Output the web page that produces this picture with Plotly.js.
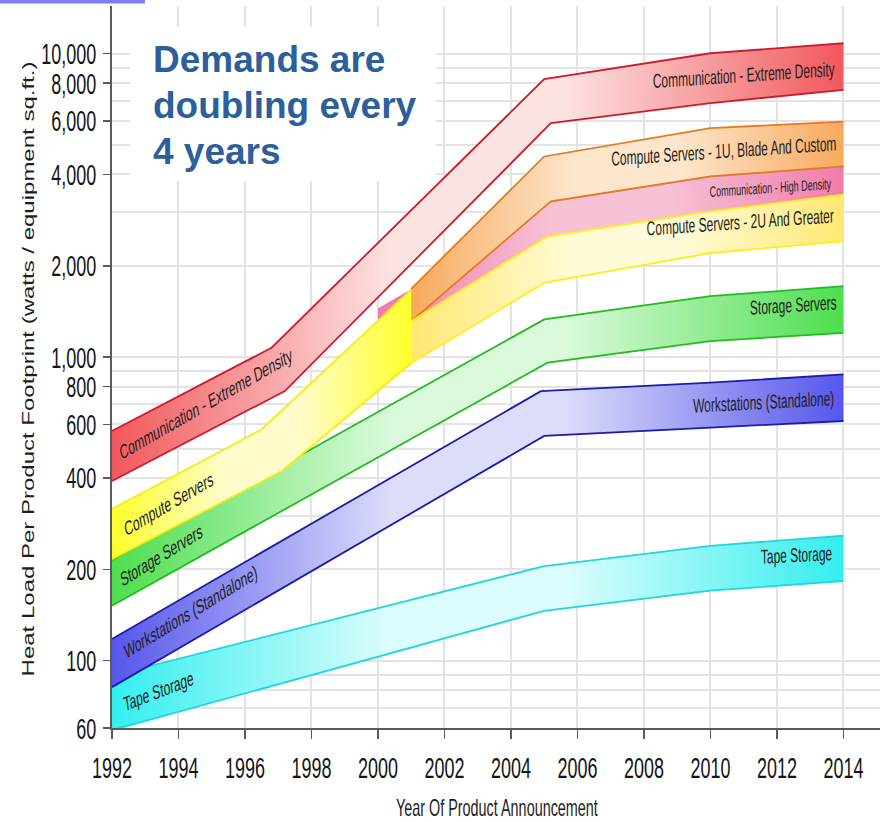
<!DOCTYPE html>
<html>
<head>
<meta charset="utf-8">
<script src="https://cdn.plot.ly/plotly-3.0.1.min.js"></script>
<style>
  html, body { margin: 0; padding: 0; background: #ffffff; }
  #chart { width: 885px; height: 822px; }
</style>
</head>
<body>
<div id="chart"></div>
<script>
// ---- axis ticks ----
const yearTicks = [1992, 1994, 1996, 1998, 2000, 2002, 2004, 2006, 2008, 2010, 2012, 2014];
const loadTicks = [60, 100, 200, 400, 600, 800, 1000, 2000, 4000, 6000, 8000, 10000];
const loadTickText = ['60', '100', '200', '400', '600', '800', '1,000', '2,000', '4,000', '6,000', '8,000', '10,000'];
const loadGridExtra = [70, 80, 90, 300, 500, 700, 900, 3000, 5000, 7000, 9000];

// ---- band edges: year of announcement and heat load (watts / equipment sq.ft.) ----
const commExtremeTopYears = [1992, 1996.8, 2005.0, 2010, 2014];
const commExtremeTopLoad  = [571, 1074, 8240, 10030, 10820];
const commExtremeBotYears = [1992, 1997.2, 2005.2, 2010, 2014];
const commExtremeBotLoad  = [391, 773, 5900, 6870, 7600];

const compute1UTopYears = [2001, 2005.0, 2010, 2014];
const compute1UTopLoad  = [1679, 4584, 5682, 5975];
const compute1UBotYears = [2001, 2005.2, 2010, 2014];
const compute1UBotLoad  = [1314, 3261, 3939, 4249];

const commHighTopYears = [2000, 2001, 2005.2, 2010, 2014];
const commHighTopLoad  = [1435, 1660, 3261, 3939, 4249];
const commHighBotYears = [2000, 2001, 2005.1, 2010, 2014];
const commHighBotLoad  = [1250, 1314, 2500, 3022, 3429];

const compute2UTopYears = [2001, 2005.1, 2010, 2014];
const compute2UTopLoad  = [1314, 2500, 3022, 3429];
const compute2UBotYears = [2001, 2005.0, 2010, 2014];
const compute2UBotLoad  = [955, 1757, 2204, 2408];

const computeTopYears = [1992, 1996.5, 2001];
const computeTopLoad  = [316, 578, 1670];
const computeBotYears = [1992, 1997.1, 2001];
const computeBotLoad  = [216, 421, 955];

const storageTopYears = [1992, 2005.0, 2010, 2014];
const storageTopLoad  = [214.5, 1331, 1588, 1713];
const storageBotYears = [1992, 2005.1, 2010, 2014];
const storageBotLoad  = [151.7, 958.6, 1129, 1203];

const workstationTopYears = [1992, 2004.9, 2010, 2014];
const workstationTopLoad  = [117.9, 773, 824, 877];
const workstationBotYears = [1992, 2005.0, 2010, 2014];
const workstationBotLoad  = [81.8, 550, 586, 616];

const tapeTopYears = [1992, 2005, 2010, 2014];
const tapeTopLoad  = [89.3, 205, 239, 258];
const tapeBotYears = [1992, 2005, 2010, 2014];
const tapeBotLoad  = [59, 146, 170, 183];

// ---- band styling ----
const bands = {
  tape:         { topX: tapeTopYears, topY: tapeTopLoad, botX: tapeBotYears, botY: tapeBotLoad,
                  sat: '#34eeee', pale: '#dcfdfd', line: '#22d6df' },
  workstation:  { topX: workstationTopYears, topY: workstationTopLoad, botX: workstationBotYears, botY: workstationBotLoad,
                  sat: '#5656ec', pale: '#dcdcfb', line: '#1c1ca6' },
  storage:      { topX: storageTopYears, topY: storageTopLoad, botX: storageBotYears, botY: storageBotLoad,
                  sat: '#4ede4e', pale: '#dafadb', line: '#22bb22' },
  commHigh:     { topX: commHighTopYears, topY: commHighTopLoad, botX: commHighBotYears, botY: commHighBotLoad,
                  sat: '#f07cab', pale: '#f7c2d6', line: '#ea7aa8', noBottom: true },
  compute1U:    { topX: compute1UTopYears, topY: compute1UTopLoad, botX: compute1UBotYears, botY: compute1UBotLoad,
                  sat: '#f7aa5c', pale: '#fde6cc', line: '#e47a22' },
  compute2U:    { topX: compute2UTopYears, topY: compute2UTopLoad, botX: compute2UBotYears, botY: compute2UBotLoad,
                  sat: '#ffe872', pale: '#fffbd6', line: '#ffec1a' },
  computeEarly: { topX: computeTopYears, topY: computeTopLoad, botX: computeBotYears, botY: computeBotLoad,
                  sat: '#ffff2a', pale: '#fffccc', line: '#f2ee10' },
  commExtreme:  { topX: commExtremeTopYears, topY: commExtremeTopLoad, botX: commExtremeBotYears, botY: commExtremeBotLoad,
                  sat: '#f2585c', pale: '#fde2e2', line: '#c81e30' }
};
const drawOrder = ['tape', 'workstation', 'storage', 'commHigh', 'compute1U', 'compute2U', 'computeEarly', 'commExtreme'];

// ---- band labels ----
const bandLabels = [
  { text: 'Communication - Extreme Density', band: 'commExtreme', year: 2011.0, angle: 3.8 },
  { text: 'Compute Servers - 1U, Blade And Custom', band: 'compute1U', year: 2010.4, angle: 3.9 },
  { text: 'Communication - High Density', band: 'commHigh', year: 2011.8, angle: 3.8, size: 15 },
  { text: 'Compute Servers - 2U And Greater', band: 'compute2U', year: 2010.9, angle: 4, shift: 7 },
  { text: 'Storage Servers', band: 'storage', year: 2012.5, angle: 3.5, shift: 8 },
  { text: 'Workstations (Standalone)', band: 'workstation', year: 2011.6, angle: 3 },
  { text: 'Tape Storage', band: 'tape', year: 2012.6, angle: 3, shift: 7 },
  { text: 'Communication - Extreme Density', band: 'commExtreme', year: 1994.8, angle: 30, shift: 4 },
  { text: 'Compute Servers', band: 'computeEarly', year: 1993.7, angle: 30.5 },
  { text: 'Storage Servers', band: 'storage', year: 1993.5, angle: 32 },
  { text: 'Workstations (Standalone)', band: 'workstation', year: 1994.35, angle: 31.5, shift: 6 },
  { text: 'Tape Storage', band: 'tape', year: 1993.4, angle: 21 }
];

const SQ = 0.6;            // horizontal compression of the chart lettering
const FONT = 'Liberation Sans, Arial, sans-serif';

// log10 of the edge value at a given year (edges are straight on the log scale)
function logAt(xs, ys, x) {
  for (let i = 0; i < xs.length - 1; i++) {
    if (x >= xs[i] && x <= xs[i + 1]) {
      const t = (x - xs[i]) / (xs[i + 1] - xs[i]);
      return Math.log10(ys[i]) + t * (Math.log10(ys[i + 1]) - Math.log10(ys[i]));
    }
  }
  return Math.log10(x < xs[0] ? ys[0] : ys[ys.length - 1]);
}

const traces = [];
drawOrder.forEach(key => {
  const b = bands[key];
  traces.push({
    type: 'scatter', mode: 'lines',
    x: b.topX.concat(b.botX.slice().reverse()),
    y: b.topY.concat(b.botY.slice().reverse()),
    fill: 'toself',
    fillgradient: {
      type: 'horizontal',
      colorscale: [[0, b.sat], [0.38, b.pale], [0.62, b.pale], [1, b.sat]]
    },
    line: { width: 0 },
    hoverinfo: 'skip', showlegend: false
  });
  traces.push({
    type: 'scatter', mode: 'lines', x: b.topX, y: b.topY,
    line: { color: b.line, width: 1.8 }, hoverinfo: 'skip', showlegend: false
  });
  if (!b.noBottom) {
    traces.push({
      type: 'scatter', mode: 'lines', x: b.botX, y: b.botY,
      line: { color: b.line, width: 1.8 }, hoverinfo: 'skip', showlegend: false
    });
  }
});

const annotations = bandLabels.map(l => {
  const b = bands[l.band];
  const mid = (logAt(b.topX, b.topY, l.year) + logAt(b.botX, b.botY, l.year)) / 2;
  const pre = Math.atan(Math.tan(l.angle * Math.PI / 180) * SQ) * 180 / Math.PI;
  return {
    text: l.text, x: l.year, y: mid, xref: 'x', yref: 'y',
    xanchor: 'center', yanchor: 'middle', showarrow: false,
    textangle: -pre, yshift: l.shift || 0,
    font: { family: FONT, size: l.size || 20, color: '#1e1e1e' }
  };
});

// headline, one annotation per line
const headline = ['Demands are', 'doubling every', '4 years'];
const headlineY = [0.9254, 0.8622, 0.7982];
headline.forEach((t, i) => {
  annotations.push({
    text: '<b>' + t + '</b>', xref: 'paper', yref: 'paper', x: 0.0504, y: headlineY[i],
    xanchor: 'left', yanchor: 'middle', showarrow: false,
    font: { family: FONT, size: 37, color: '#2d5f9a' }
  });
});

const gridColor = '#e3e3e3';
const axisColor = '#5a5a5a';

const layout = {
  width: 885, height: 822,
  margin: { l: 112, r: 5, t: 6, b: 94 },
  paper_bgcolor: '#ffffff', plot_bgcolor: '#ffffff',
  showlegend: false, hovermode: false,
  xaxis: {
    range: [1992, 2015.1],
    tickmode: 'array', tickvals: yearTicks, ticktext: yearTicks.map(String),
    tickangle: 0, ticks: 'outside', ticklen: 9, tickwidth: 1.5, tickcolor: axisColor,
    ticklabelstandoff: 3,
    showline: true, linecolor: axisColor, linewidth: 1.8,
    showgrid: true, gridcolor: gridColor, gridwidth: 2, zeroline: false,
    tickfont: { family: FONT, size: 30, color: '#161616' },
    title: { text: 'Year Of Product Announcement', font: { family: FONT, size: 24, color: '#1e1e1e' } }
  },
  yaxis: {
    type: 'log', range: [Math.log10(60), 4.157],
    tickmode: 'array', tickvals: loadTicks, ticktext: loadTickText,
    ticks: 'outside', ticklen: 7, tickwidth: 1.5, tickcolor: axisColor,
    ticklabelstandoff: 1,
    showline: true, linecolor: axisColor, linewidth: 1.8,
    showgrid: true, gridcolor: gridColor, gridwidth: 2, zeroline: false,
    minor: { tickmode: 'array', tickvals: loadGridExtra, showgrid: true, gridcolor: gridColor, gridwidth: 2, ticks: '' },
    tickfont: { family: FONT, size: 30, color: '#161616' },
    title: { text: 'Heat Load Per Product Footprint (watts / equipment sq.ft.)', font: { family: FONT, size: 24, color: '#1e1e1e' } }
  },
  shapes: [
    // white panel behind the headline
    { type: 'rect', xref: 'paper', yref: 'paper', x0: 0.0234, x1: 0.4219, y0: 0.7576, y1: 0.9709,
      fillcolor: '#ffffff', line: { width: 0 }, layer: 'above' },
    // slide accent bar
    { type: 'rect', xref: 'paper', yref: 'paper', x0: -0.1458, x1: 0.043, y0: 1.0035, y1: 1.0083,
      fillcolor: '#7c80f4', line: { width: 0 }, layer: 'above' }
  ],
  annotations: annotations
};

// compress a text element horizontally on screen about an anchor point,
// optionally moving that anchor to a target position
function squish(el, s, ax, target) {
  if (!el) return;
  const svg = el.ownerSVGElement;
  const bb = el.getBBox();
  const ctm = el.getCTM();
  const pctm = el.parentNode.getCTM();
  let p = svg.createSVGPoint();
  p.x = bb.x + bb.width * ax;
  p.y = bb.y + bb.height / 2;
  p = p.matrixTransform(ctm);
  const tx = target ? target[0] : p.x;
  const ty = target ? target[1] : p.y;
  const S = svg.createSVGMatrix().translate(tx, ty).scaleNonUniform(s, 1).translate(-p.x, -p.y);
  const m = pctm.inverse().multiply(S).multiply(ctm);
  el.setAttribute('transform', 'matrix(' + [m.a, m.b, m.c, m.d, m.e, m.f].join(',') + ')');
}

Plotly.newPlot('chart', traces, layout, { staticPlot: true, displayModeBar: false }).then(gd => {
  gd.querySelectorAll('.xtick text').forEach(el => squish(el, SQ, 0.5));
  gd.querySelectorAll('.ytick text').forEach(el => squish(el, SQ, 1));
  squish(gd.querySelector('.g-xtitle text'), SQ, 0.5, [497, 808]);
  squish(gd.querySelector('.g-ytitle text'), 0.65, 0.5, [28, 369]);
  bandLabels.forEach((l, i) => {
    squish(gd.querySelector('.annotation[data-index="' + i + '"] text'), SQ, 0.5);
  });
});
</script>
</body>
</html>
